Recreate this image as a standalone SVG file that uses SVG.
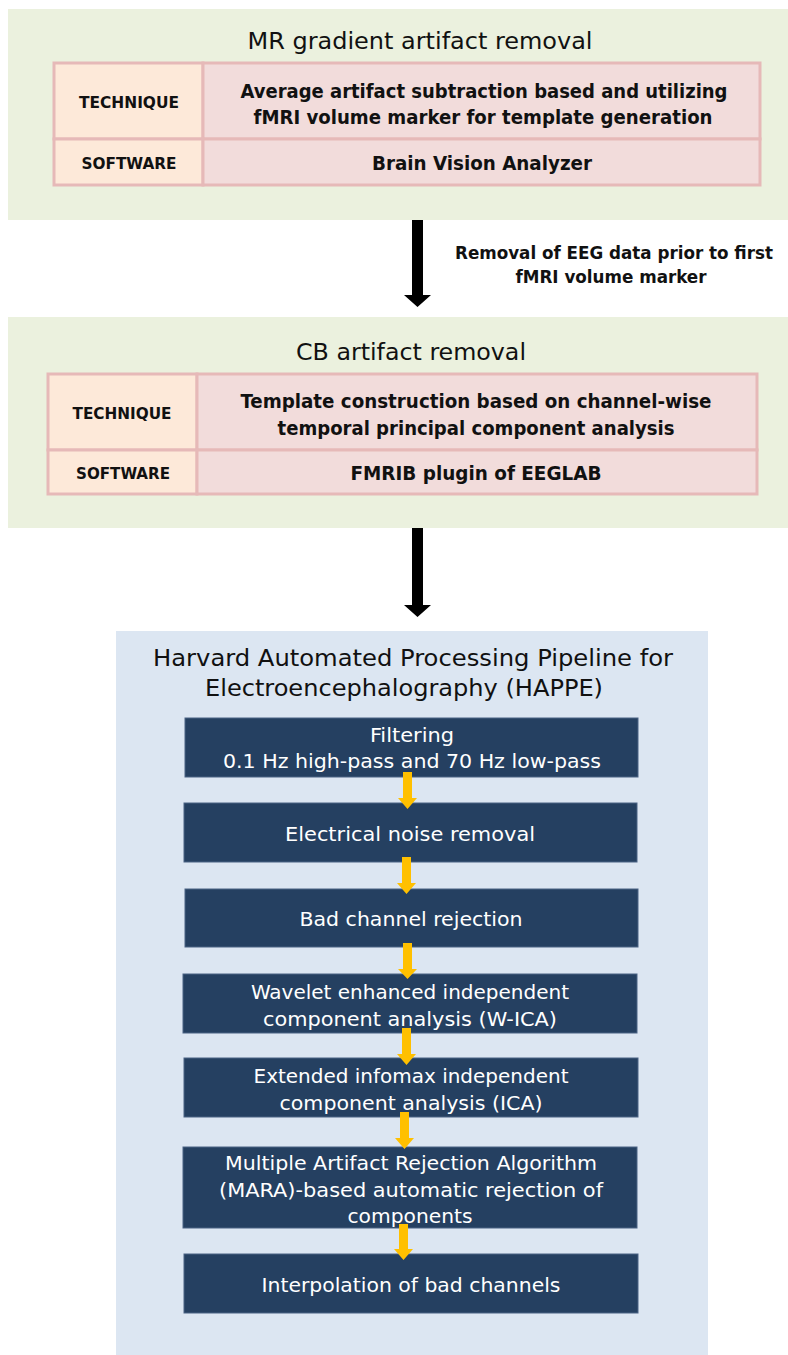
<svg xmlns="http://www.w3.org/2000/svg" width="788" height="1355" viewBox="0 0 788 1355">
  <style>
    text { font-family: "DejaVu Sans Condensed", "DejaVu Sans", "Liberation Sans", sans-serif; text-anchor: middle; }
    .panel-g { fill: #ebf1de; }
    .panel-b { fill: #dce6f2; }
    .title { font-size: 23px; fill: #111; }
    .lbl { fill: #fde9d9; stroke: #e6b9b8; stroke-width: 3; }
    .val { fill: #f2dcdb; stroke: #e6b9b8; stroke-width: 3; }
    .hdr { font-size: 15px; font-weight: bold; fill: #111; }
    .body { font-size: 19px; font-weight: bold; fill: #111; }
    .note { font-size: 18px; font-weight: bold; fill: #111; }
    .step { fill: #254061; stroke: #4a6284; stroke-width: 1; }
    .steptxt { font-size: 20px; fill: #ffffff; }
    .blk { fill: #000; }
    .yel { fill: #ffc000; }
  </style>

  <!-- Stage 1: MR gradient artifact removal -->
  <g id="mr-gradient">
    <rect class="panel-g" x="8" y="9" width="780" height="211"/>
    <text class="title" x="420" y="49" textLength="345" lengthAdjust="spacingAndGlyphs">MR gradient artifact removal</text>
    <rect class="lbl" x="54" y="63" width="149" height="76"/>
    <rect class="val" x="203" y="63" width="557" height="76"/>
    <rect class="lbl" x="54" y="139" width="149" height="46"/>
    <rect class="val" x="203" y="139" width="557" height="46"/>
    <text class="hdr" x="129" y="108" textLength="100" lengthAdjust="spacingAndGlyphs">TECHNIQUE</text>
    <text class="hdr" x="129" y="169" textLength="95" lengthAdjust="spacingAndGlyphs">SOFTWARE</text>
    <text class="body" x="484" y="98" textLength="487" lengthAdjust="spacingAndGlyphs">Average artifact subtraction based and utilizing</text>
    <text class="body" x="483" y="124" textLength="459" lengthAdjust="spacingAndGlyphs">fMRI volume marker for template generation</text>
    <text class="body" x="482" y="170" textLength="220" lengthAdjust="spacingAndGlyphs">Brain Vision Analyzer</text>
  </g>

  <!-- Stage 2: CB artifact removal -->
  <g id="cb-artifact">
    <rect class="panel-g" x="8" y="317" width="780" height="211"/>
    <text class="title" x="411" y="360" textLength="230" lengthAdjust="spacingAndGlyphs">CB artifact removal</text>
    <rect class="lbl" x="48" y="374" width="149" height="76"/>
    <rect class="val" x="197" y="374" width="560" height="76"/>
    <rect class="lbl" x="48" y="450" width="149" height="44"/>
    <rect class="val" x="197" y="450" width="560" height="44"/>
    <text class="hdr" x="122" y="419" textLength="99" lengthAdjust="spacingAndGlyphs">TECHNIQUE</text>
    <text class="hdr" x="123" y="479" textLength="94" lengthAdjust="spacingAndGlyphs">SOFTWARE</text>
    <text class="body" x="476" y="408" textLength="471" lengthAdjust="spacingAndGlyphs">Template construction based on channel-wise</text>
    <text class="body" x="476" y="435" textLength="397" lengthAdjust="spacingAndGlyphs">temporal principal component analysis</text>
    <text class="body" x="476" y="480" textLength="251" lengthAdjust="spacingAndGlyphs">FMRIB plugin of EEGLAB</text>
  </g>

  <!-- Stage 3: HAPPE pipeline container -->
  <g id="happe">
    <rect class="panel-b" x="116" y="631" width="592" height="724"/>
    <text class="title" x="413" y="666" textLength="520" lengthAdjust="spacingAndGlyphs">Harvard Automated Processing Pipeline for</text>
    <text class="title" x="404" y="696" textLength="398" lengthAdjust="spacingAndGlyphs">Electroencephalography (HAPPE)</text>
  </g>

  <g id="step-filtering">
    <rect class="step" x="185" y="718" width="453" height="59"/>
    <text class="steptxt" x="412" y="742" textLength="84" lengthAdjust="spacingAndGlyphs">Filtering</text>
    <text class="steptxt" x="412" y="768" textLength="378" lengthAdjust="spacingAndGlyphs">0.1 Hz high-pass and 70 Hz low-pass</text>
  </g>
  <g id="step-noise">
    <rect class="step" x="184" y="803" width="453" height="59"/>
    <text class="steptxt" x="410" y="841" textLength="250" lengthAdjust="spacingAndGlyphs">Electrical noise removal</text>
  </g>
  <g id="step-badchan">
    <rect class="step" x="185" y="889" width="453" height="58"/>
    <text class="steptxt" x="411" y="926" textLength="223" lengthAdjust="spacingAndGlyphs">Bad channel rejection</text>
  </g>
  <g id="step-wica">
    <rect class="step" x="183" y="974" width="454" height="59"/>
    <text class="steptxt" x="410" y="999" textLength="318" lengthAdjust="spacingAndGlyphs">Wavelet enhanced independent</text>
    <text class="steptxt" x="410" y="1026" textLength="294" lengthAdjust="spacingAndGlyphs">component analysis (W-ICA)</text>
  </g>
  <g id="step-ica">
    <rect class="step" x="184" y="1058" width="454" height="59"/>
    <text class="steptxt" x="411" y="1083" textLength="315" lengthAdjust="spacingAndGlyphs">Extended infomax independent</text>
    <text class="steptxt" x="411" y="1110" textLength="263" lengthAdjust="spacingAndGlyphs">component analysis (ICA)</text>
  </g>
  <g id="step-mara">
    <rect class="step" x="183" y="1147" width="454" height="81"/>
    <text class="steptxt" x="411" y="1170" textLength="372" lengthAdjust="spacingAndGlyphs">Multiple Artifact Rejection Algorithm</text>
    <text class="steptxt" x="411" y="1197" textLength="384" lengthAdjust="spacingAndGlyphs">(MARA)-based automatic rejection of</text>
    <text class="steptxt" x="410" y="1223" textLength="125" lengthAdjust="spacingAndGlyphs">components</text>
  </g>
  <g id="step-interp">
    <rect class="step" x="184" y="1254" width="454" height="59"/>
    <text class="steptxt" x="411" y="1292" textLength="299" lengthAdjust="spacingAndGlyphs">Interpolation of bad channels</text>
  </g>

  <!-- Connectors -->
  <g id="connectors">
    <!-- black arrows between stages -->
    <path class="blk" d="M412 220 H423 V295 H431 L417.5 307 L404 295 H412 Z"/>
    <path class="blk" d="M412 528 H423 V605 H431 L417.5 617 L404 605 H412 Z"/>
    <text class="note" x="614" y="259" textLength="318" lengthAdjust="spacingAndGlyphs">Removal of EEG data prior to first</text>
    <text class="note" x="611" y="283" textLength="191" lengthAdjust="spacingAndGlyphs">fMRI volume marker</text>
    <!-- yellow arrows between pipeline steps -->
    <path class="yel" d="M403 772 H412 V798 H417 L407.5 809 L398 798 H403 Z"/>
    <path class="yel" d="M402 857 H411 V883 H416 L406.5 894 L397 883 H402 Z"/>
    <path class="yel" d="M403 943 H412 V969 H417 L407.5 979 L398 969 H403 Z"/>
    <path class="yel" d="M402 1028 H411 V1054 H416 L406.5 1065 L397 1054 H402 Z"/>
    <path class="yel" d="M400 1112 H409 V1138 H414 L404.5 1149 L395 1138 H400 Z"/>
    <path class="yel" d="M399 1224 H408 V1249 H413 L403.5 1260 L394 1249 H399 Z"/>
  </g>
</svg>
